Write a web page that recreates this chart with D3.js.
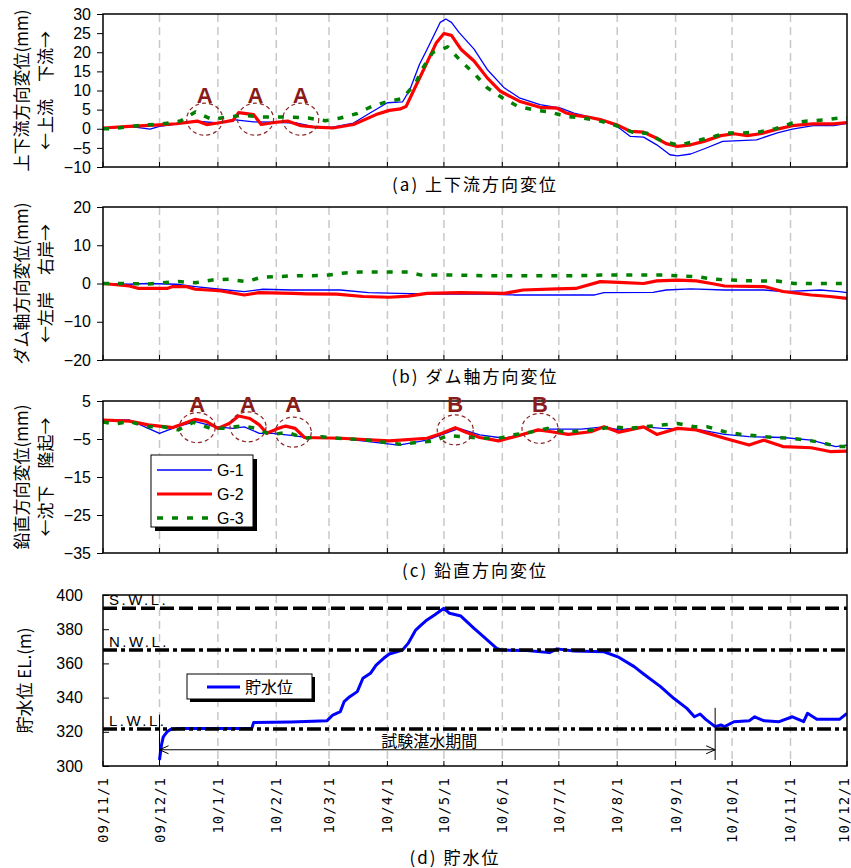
<!DOCTYPE html>
<html>
<head>
<meta charset="utf-8">
<script src="https://cdn.jsdelivr.net/npm/d3@7"></script>
<style>
body { margin: 0; background: #fff; }
svg text { font-family: "Liberation Sans", Arial, sans-serif; fill: #000; }
svg .jp { font-family: "Noto Sans CJK JP", sans-serif; }
</style>
</head>
<body>
<div id="chart"></div>
<script>
// months on the x axis
var monthTicks = ["2009-11-01","2009-12-01","2010-01-01","2010-02-01","2010-03-01","2010-04-01","2010-05-01",
                  "2010-06-01","2010-07-01","2010-08-01","2010-09-01","2010-10-01","2010-11-01","2010-12-01"];
var monthLabels = ["09/11/1","09/12/1","10/1/1","10/2/1","10/3/1","10/4/1","10/5/1",
                   "10/6/1","10/7/1","10/8/1","10/9/1","10/10/1","10/11/1","10/12/1"];

// all series: days counted from 2009/11/1
// (a) upstream-downstream displacement (mm)
var aG1Days = [0,14,25,30,39,50,61,69,80,92,103,113,122,133,142,151,159,163,168,173,179,182,185,189,197,204,213,221,232,243,250,264,273,280,287,294,301,305,312,320,329,338,347,358,366,377,388,395];
var aG1 = [0,0.6,-0.1,0.6,1.2,2.0,1.5,2.4,1.8,1.7,1.5,0.4,0.4,1.5,4.2,6.8,7.0,10.3,16.8,21.7,27.8,28.7,27.8,25.2,20.8,15.5,10.7,8.1,6.3,5.4,4.1,2.4,0.6,-2.0,-2.2,-4.2,-6.8,-7.1,-6.6,-5.1,-3.3,-3.1,-2.9,-1.1,-0.1,0.8,0.8,1.4];
var aG2Days = [0,14,30,39,50,55,61,69,72,80,84,92,98,105,113,122,133,145,152,158,161,166,172,177,181,185,190,197,204,211,221,232,241,246,251,258,264,273,280,287,294,299,305,312,319,328,335,342,349,358,366,377,388,395];
var aG2 = [0.2,0.6,1.0,1.3,2.0,1.1,1.5,2.2,4.2,3.7,1.1,1.7,2.0,0.8,0.4,0.2,1.1,3.7,4.8,5.2,5.9,11.1,17.3,22.5,24.9,24.4,20.8,17.7,13.3,9.8,7.2,5.6,5.4,4.1,3.5,3.0,2.4,1.0,-0.7,-0.9,-2.5,-3.9,-4.6,-4.2,-3.3,-1.8,-1.3,-1.8,-1.3,-0.1,0.8,1.3,1.3,1.6];
var aG3Days = [0,5,14,23,32,41,49,58,66,75,83,92,101,109,118,126,135,143,151,159,166,170,175,183,190,197,204,212,220,228,237,246,255,264,272,281,289,297,306,314,323,331,340,349,357,366,374,383,391,395];
var aG3 = [0,0,0.6,1.0,1.3,2.0,4.4,2.4,3.1,3.5,3.1,3.1,3.0,2.8,2.1,2.8,4.0,5.9,7.1,7.9,12,16,19.9,21.4,17.7,14.5,10.7,8.1,5.9,5.0,4.4,3.2,2.8,2.0,0.9,-0.9,-1.2,-3.3,-4.3,-3.3,-2.2,-1.1,-1.1,-0.8,0,1.5,2.0,2.3,2.8,2.8];

// (b) dam axis displacement (mm)
var bG1Days = [0,14,24,39,49,62,75,85,100,126,141,157,177,203,218,243,261,266,292,299,312,330,351,361,381,391,395];
var bG1 = [0,-0.2,0,-0.2,-0.8,-1.5,-2.1,-1.5,-1.7,-1.7,-2.4,-2.6,-2.8,-2.8,-3.0,-3.0,-3.0,-2.4,-2.3,-1.7,-1.4,-1.7,-1.7,-2.1,-1.7,-2.1,-2.4];
var bG2Days = [0,14,19,34,37,44,49,62,75,83,101,108,124,138,152,162,172,190,213,223,241,251,264,274,287,294,305,315,323,330,351,361,376,386,395];
var bG2 = [0,-0.65,-1.3,-1.3,-0.8,-0.8,-1.5,-1.9,-3.0,-2.4,-2.6,-2.7,-2.8,-3.4,-3.6,-3.3,-2.6,-2.4,-2.6,-1.7,-1.4,-1.3,0.5,0.3,0,0.7,0.9,0.7,0,-0.65,-0.8,-2.1,-3.0,-3.4,-3.9];
var bG3Days = [0,6,24,40,49,58,67,76,84,101,118,127,136,152,162,169,187,204,213,229,247,264,282,298,315,325,342,358,367,384,395];
var bG3 = [0,0,-0.1,0.5,0.2,0.9,1.1,0.5,1.6,2.0,2.1,2.7,3.0,3.0,3.0,2.2,2.2,2.0,2.0,2.0,2.0,2.2,2.2,2.2,1.8,1.1,0.7,0.65,0,0,0];

// (c) vertical displacement (mm)
var cG1Days = [0,14,24,30,39,49,60,69,75,83,90,101,111,126,141,157,172,189,200,213,228,236,254,266,274,287,297,317,330,343,361,376,389,395];
var cG1 = [0,0,-2.2,-3.5,-1.8,-0.4,-1.8,-2.2,-1.8,-3.5,-3.5,-4.1,-4.8,-4.8,-5.7,-6.6,-5.3,-2.2,-3.9,-4.8,-3.1,-2.4,-2.4,-1.8,-2.6,-1.8,-2.2,-2.6,-3.8,-4.4,-4.6,-5.3,-7.0,-6.6];
var cG2Days = [0,14,24,37,43,49,55,61,67,72,78,83,87,93,97,102,107,126,152,172,180,187,192,200,210,220,231,238,247,259,266,274,287,294,305,315,330,343,351,361,376,386,395];
var cG2 = [0,-0.3,-1.3,-2.0,-0.9,0.2,-0.4,-2.2,-0.9,1.05,0.4,-1.3,-3.5,-2.2,-1.6,-2.2,-4.6,-4.8,-5.5,-4.8,-3.5,-2.0,-3.1,-4.6,-5.5,-4.2,-2.6,-3.1,-3.8,-3.1,-1.8,-3.2,-1.8,-3.8,-2.2,-2.6,-4.8,-6.6,-5.3,-7.0,-7.3,-8.3,-8.2];
var cG3Days = [0,6,14,24,32,40,48,57,65,74,81,89,98,107,116,125,141,150,158,167,176,183,192,201,210,219,227,236,245,261,270,279,287,305,314,321,330,339,356,365,374,381,390,395];
var cG3 = [-0.5,-1.1,-0.4,-1.8,-1.8,-2.6,-0.6,-2.2,-2.2,-1.5,-2.2,-3.9,-3.2,-4.8,-4.4,-4.8,-5.3,-5.9,-6.4,-5.9,-5.5,-4.1,-4.4,-4.8,-4.8,-3.8,-3.2,-2.2,-3.2,-2.6,-1.8,-2.2,-1.8,-0.9,-1.8,-1.8,-3.1,-3.8,-4.6,-4.8,-5.3,-5.9,-7.0,-7.0];

// (d) reservoir water level EL.(m)
var wlDays = [30,31,32,34,36,40,45,60,79,80,100,119,122,126,128,131,135,138,142,145,149,152,159,162,166,169,172,176,181,184,190,197,202,209,212,225,237,241,250,266,274,282,287,296,303,310,314,317,320,325,328,330,335,343,346,351,359,366,372,374,379,391,395];
var wl = [303.5,312,317,320,321.5,322,322,322,322,325.5,325.8,326.5,329.8,331.8,337.6,340.5,343.5,351.3,354.2,359,363,365.5,367.8,371.7,379.5,382.5,385.4,388.3,392.2,389.3,387.7,380.5,375.6,368.8,367.8,367.5,366.3,368.5,367.3,366.8,363.5,358.1,353.8,346.4,339.6,333.7,328.8,330.4,327.3,323,324,323,325.9,326.4,328.8,326.4,325.9,328.8,325.9,330.8,327.3,327.3,330.8];
var refNames = ["S.W.L.","N.W.L.","L.W.L."];
var refLevels = [392.2, 367.8, 321.6];
var testPeriodDays = [30, 325];

// annotation circles: [day, value, letter]
var aMarks = [[54, 2.5, "A"], [81.6, 2.5, "A"], [105.5, 2.5, "A"]];
var cMarks = [[50.7, -2.0, "A"], [77.2, -1.8, "A"], [101.4, -3.2, "A"], [187.3, -2.6, "B"], [232, -2.2, "B"]];

var start = new Date(2009, 10, 1);
function day(d) { return d3.timeDay.offset(start, d); }

var svg = d3.select("#chart").append("svg").attr("width", 851).attr("height", 868);
var x = d3.scaleTime().domain([start, new Date(2010, 11, 1)]).range([103, 847]);
var ticks = monthTicks.map(s => d3.timeParse("%Y-%m-%d")(s));

var seriesStyle = [
  {color: "#0000ff", width: 1.3, dash: null},
  {color: "#ff0000", width: 3.2, dash: null},
  {color: "#008000", width: 3.5, dash: "6,9"}
];

function panel(cfg) {
  var y = d3.scaleLinear().domain(cfg.domain).range([cfg.bottom, cfg.top]);
  var g = svg.append("g");
  var cid = "clip" + cfg.id;
  svg.append("clipPath").attr("id", cid).append("rect")
     .attr("x", 103).attr("y", cfg.top).attr("width", 744).attr("height", cfg.bottom - cfg.top);

  // month grid
  g.selectAll(".grid").data(ticks.slice(1, -1)).enter().append("line")
    .attr("x1", d => x(d)).attr("x2", d => x(d))
    .attr("y1", cfg.top).attr("y2", cfg.bottom)
    .attr("stroke", "#c8c8c8").attr("stroke-width", 1.5).attr("stroke-dasharray", "8,5");
  // inner x ticks
  g.selectAll(".xt").data(ticks).enter().append("line")
    .attr("x1", d => x(d)).attr("x2", d => x(d))
    .attr("y1", cfg.bottom).attr("y2", cfg.bottom - 5)
    .attr("stroke", "#000").attr("stroke-width", 1);

  var line = d3.line().x(d => x(day(d[0]))).y(d => y(d[1]));
  var lg = g.append("g").attr("clip-path", "url(#" + cid + ")");
  cfg.series.forEach(function (s, i) {
    var st = cfg.styles ? cfg.styles[i] : seriesStyle[i];
    lg.append("path").datum(d3.zip(s[0], s[1]))
      .attr("fill", "none").attr("stroke", st.color).attr("stroke-width", st.width)
      .attr("stroke-dasharray", st.dash).attr("stroke-linejoin", "round")
      .attr("d", line);
  });

  // y axis
  var inside = cfg.inside;
  var ax = inside ? d3.axisRight(y) : d3.axisLeft(y);
  ax.tickValues(cfg.ticks).tickSize(6).tickPadding(6);
  var yg = g.append("g").attr("transform", "translate(103,0)").call(ax);
  yg.select(".domain").remove();
  yg.selectAll("line").attr("stroke", "#000");
  yg.selectAll("text").attr("font-size", 16).style("font-family", cfg.tickFont || null);
  if (inside) {
    yg.selectAll("text").attr("x", -20).attr("text-anchor", "end");
  }

  g.append("rect").attr("x", 103).attr("y", cfg.top).attr("width", 744).attr("height", cfg.bottom - cfg.top)
    .attr("fill", "none").attr("stroke", "#000").attr("stroke-width", 1.5);

  // titles
  var mid = (cfg.top + cfg.bottom) / 2;
  cfg.ytitle.forEach(function (t, i) {
    g.append("text").attr("class", "jp")
      .attr("transform", "translate(" + t.x + "," + mid + ") rotate(-90)")
      .attr("text-anchor", "middle").attr("font-size", 17).text(t.text);
  });
  g.append("text").attr("class", "jp").attr("x", cfg.titleX || 475).attr("y", cfg.titleY)
    .attr("text-anchor", "middle").attr("font-size", 17).attr("letter-spacing", 2).text(cfg.title);

  return {g: g, y: y};
}

function marks(p, list, rx, ry, labelVal) {
  list.forEach(function (m) {
    var cx = x(day(m[0])), cy = p.y(m[1]);
    p.g.append("ellipse").attr("cx", cx).attr("cy", cy).attr("rx", rx).attr("ry", ry)
      .attr("fill", "none").attr("stroke", "#8b2525").attr("stroke-width", 1.2).attr("stroke-dasharray", "4,3");
    p.g.append("text").attr("x", cx).attr("y", p.y(labelVal)).attr("text-anchor", "middle")
      .attr("font-size", 22).attr("font-weight", "bold")
      .style("font-family", "'Liberation Sans Narrow', 'Liberation Sans', sans-serif")
      .style("fill", "#8b1a1a").text(m[2]);
  });
}

var pa = panel({id: "a", top: 14, bottom: 167, domain: [-10, 30], ticks: d3.range(-10, 31, 5),
  series: [[aG1Days, aG1], [aG2Days, aG2], [aG3Days, aG3]],
  ytitle: [{x: 28, text: "上下流方向変位(mm)"}, {x: 52, text: "←上流　下流→"}],
  title: "(a) 上下流方向変位", titleY: 191});
marks(pa, aMarks, 18, 16, 6.7);

var pb = panel({id: "b", top: 207, bottom: 360, domain: [-20, 20], ticks: [-20, -10, 0, 10, 20],
  series: [[bG1Days, bG1], [bG2Days, bG2], [bG3Days, bG3]],
  ytitle: [{x: 28, text: "ダム軸方向変位(mm)"}, {x: 52, text: "←左岸　右岸→"}],
  title: "(b) ダム軸方向変位", titleY: 383});

var pc = panel({id: "c", top: 401, bottom: 553, domain: [-35, 5], ticks: [-35, -25, -15, -5, 5],
  series: [[cG1Days, cG1], [cG2Days, cG2], [cG3Days, cG3]],
  ytitle: [{x: 28, text: "鉛直方向変位(mm)"}, {x: 52, text: "←沈下　隆起→"}],
  title: "(c) 鉛直方向変位", titleY: 577});
marks(pc, cMarks, 18, 15, 2.1);

// legend (c)
var lg = pc.g.append("g");
lg.append("rect").attr("x", 155).attr("y", 459).attr("width", 102).attr("height", 72).attr("fill", "#000");
lg.append("rect").attr("x", 151).attr("y", 455).attr("width", 102).attr("height", 72)
  .attr("fill", "#fff").attr("stroke", "#000").attr("stroke-width", 1);
["G-1", "G-2", "G-3"].forEach(function (n, i) {
  var yy = 470 + i * 24;
  var st = seriesStyle[i];
  lg.append("line").attr("x1", 157).attr("x2", 212).attr("y1", yy).attr("y2", yy)
    .attr("stroke", st.color).attr("stroke-width", st.width).attr("stroke-dasharray", st.dash);
  lg.append("text").attr("x", 217).attr("y", yy + 6).attr("font-size", 16).text(n);
});

var pd = panel({id: "d", top: 595, bottom: 766, domain: [300, 400], ticks: d3.range(300, 401, 20),
  inside: true, tickFont: "'Liberation Sans Narrow', 'Liberation Sans', sans-serif",
  series: [[wlDays, wl]], styles: [{color: "#0000ff", width: 3, dash: null}],
  ytitle: [{x: 31, text: "貯水位 EL.(m)"}],
  title: "(d) 貯水位", titleY: 864, titleX: 455});

var refDash = ["14,5", "14,4,4,4", "14,4,4,4,4,4"];
refLevels.forEach(function (v, i) {
  pd.g.append("line").attr("x1", 103).attr("x2", 847).attr("y1", pd.y(v)).attr("y2", pd.y(v))
    .attr("stroke", "#000").attr("stroke-width", 3.5).attr("stroke-dasharray", refDash[i]);
  pd.g.append("text").attr("x", 109).attr("y", pd.y(v) - 3).attr("font-size", 15)
    .attr("letter-spacing", 2.5).style("font-family", "'Liberation Sans Narrow', sans-serif").text(refNames[i]);
});

// test impounding period arrow
var tx0 = x(day(testPeriodDays[0])), tx1 = x(day(testPeriodDays[1]));
pd.g.append("line").attr("x1", tx0).attr("x2", tx0).attr("y1", pd.y(330)).attr("y2", pd.y(300)).attr("stroke", "#000");
pd.g.append("line").attr("x1", tx1).attr("x2", tx1).attr("y1", pd.y(334)).attr("y2", pd.y(303.5)).attr("stroke", "#000");
var ay = pd.y(309.5);
pd.g.append("line").attr("x1", tx0).attr("x2", tx1).attr("y1", ay).attr("y2", ay).attr("stroke", "#000");
pd.g.append("path").attr("d", "M" + (tx0 + 9) + "," + (ay - 4) + "L" + tx0 + "," + ay + "L" + (tx0 + 9) + "," + (ay + 4))
  .attr("fill", "none").attr("stroke", "#000");
pd.g.append("path").attr("d", "M" + (tx1 - 9) + "," + (ay - 4) + "L" + tx1 + "," + ay + "L" + (tx1 - 9) + "," + (ay + 4))
  .attr("fill", "none").attr("stroke", "#000");
pd.g.append("text").attr("class", "jp").attr("x", (tx0 + tx1) / 2 - 8).attr("y", ay - 3)
  .attr("text-anchor", "middle").attr("font-size", 16).text("試験湛水期間");

// legend (d)
pd.g.append("rect").attr("x", 190).attr("y", 677).attr("width", 125).attr("height", 25).attr("fill", "#000");
pd.g.append("rect").attr("x", 187).attr("y", 674).attr("width", 125).attr("height", 25)
  .attr("fill", "#fff").attr("stroke", "#000");
pd.g.append("line").attr("x1", 207).attr("x2", 240).attr("y1", 687).attr("y2", 687)
  .attr("stroke", "#0000ff").attr("stroke-width", 3);
pd.g.append("text").attr("class", "jp").attr("x", 245).attr("y", 693).attr("font-size", 16).text("貯水位");

// x labels (rotated)
svg.append("g").selectAll("text").data(ticks).enter().append("text")
  .attr("transform", d => "translate(" + Math.min(x(d) + 5, 849) + ",777) rotate(-90)")
  .attr("text-anchor", "end").attr("font-size", 14).attr("letter-spacing", 1)
  .style("font-family", "'DejaVu Sans Mono', monospace")
  .text((d, i) => monthLabels[i]);
</script>
</body>
</html>
